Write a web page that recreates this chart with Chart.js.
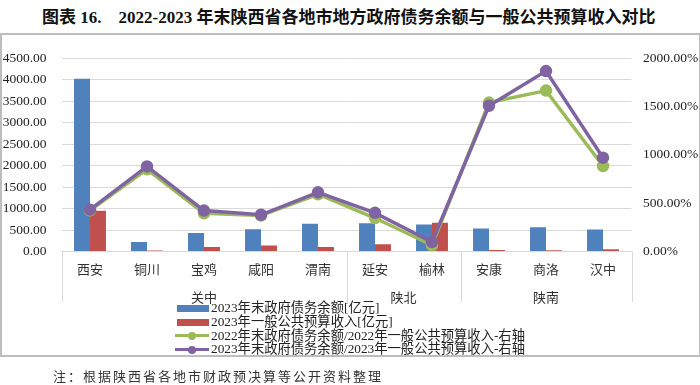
<!DOCTYPE html>
<html lang="zh">

<head>
    <meta charset="UTF-8">
    <title>陕西省各地市地方政府债务余额与一般公共预算收入对比</title>
    <script src="https://cdn.jsdelivr.net/npm/chart.js"></script>
    <style>
        body {
            margin: 0;
            width: 700px;
            height: 385px;
            background: #fff;
            position: relative;
            overflow: hidden;
            font-family: "Liberation Serif", "Noto Sans CJK SC", serif;
            color: #222;
        }

        .title {
            position: absolute;
            left: 42px;
            top: 3px;
            font-size: 17px;
            font-weight: bold;
            white-space: pre;
            color: #111;
        }

        .frame {
            position: absolute;
            left: 0px;
            top: 33px;
            width: 697px;
            height: 320px;
            border: 2px solid #bdbdbd;
        }

        .chartBox {
            position: absolute;
            left: 0;
            top: 35px;
        }

        .legend {
            position: absolute;
            left: 175px;
            top: 301px;
            font-size: 13.3px;
            line-height: 13.8px;
            color: #222;
        }

        .legend div {
            display: flex;
            align-items: center;
            white-space: nowrap;
            height: 13.8px;
        }

        .mk {
            position: relative;
            display: inline-block;
            width: 34px;
            height: 10px;
            margin-right: 2px;
        }

        .mk .box {
            position: absolute;
            left: 2px;
            right: 0;
            top: 2px;
            height: 7px;
        }

        .mk .ln {
            position: absolute;
            left: 0;
            right: 0;
            top: 4px;
            height: 3px;
        }

        .mk .dot {
            position: absolute;
            left: 13px;
            top: 1.5px;
            width: 8px;
            height: 8px;
            border-radius: 50%;
        }

        .note {
            position: absolute;
            left: 53px;
            top: 366px;
            font-size: 13px;
            letter-spacing: 2px;
            color: #333;
        }
    </style>
</head>

<body>
    <div class="title">图表 16.    2022-2023 年末陕西省各地市地方政府债务余额与一般公共预算收入对比</div>
    <div class="frame"></div>
    <div class="chartBox">
        <canvas id="debtChart" width="700" height="270"></canvas>
    </div>
    <div class="legend" id="legend"></div>
    <div class="note">注：根据陕西省各地市财政预决算等公开资料整理</div>
</body>
<script>
    // 数据
    const cities = ['西安', '铜川', '宝鸡', '咸阳', '渭南', '延安', '榆林', '安康', '商洛', '汉中'];
    const groupNames = ['关中', '陕北', '陕南'];
    const groupSizes = [5, 2, 3];

    const debt2023 = [4020, 219, 430, 519, 645, 660, 630, 533, 564, 511];
    const revenue2023 = [951, 25, 102, 138, 105, 168, 667, 35, 30, 53];
    const ratio2022 = [425, 850, 396, 372, 592, 346, 65, 1540, 1664, 884];
    const ratio2023 = [433, 880, 423, 380, 612, 400, 98, 1507, 1866, 970];

    const leftTicks = { min: 0, max: 4500, step: 500 };
    const rightTicks = { min: 0, max: 2000, step: 500 };

    const names = ['2023年末政府债务余额[亿元]', '2023年一般公共预算收入[亿元]',
        '2022年末政府债务余额/2022年一般公共预算收入-右轴', '2023年末政府债务余额/2023年一般公共预算收入-右轴'];
    const colors = ['#4F81BD', '#C0504D', '#9BBB59', '#8064A2'];

    const gridColor = '#d9d9d9';
    const cjk = '"Liberation Serif", "Noto Sans CJK SC", serif';

    // 分组标签和分隔线
    const groupAxis = {
        id: 'groupAxis',
        afterDraw(chart) {
            const ctx = chart.ctx;
            const area = chart.chartArea;
            const step = (area.right - area.left) / cities.length;
            ctx.save();
            ctx.strokeStyle = gridColor;
            ctx.lineWidth = 1;
            let start = 0;
            const edges = [0];
            groupSizes.forEach(n => { start += n; edges.push(start); });
            edges.forEach(e => {
                const px = Math.round(area.left + e * step) + 0.5;
                ctx.beginPath();
                ctx.moveTo(px, area.bottom);
                ctx.lineTo(px, chart.height - 3);
                ctx.stroke();
            });
            ctx.fillStyle = '#333';
            ctx.font = '13px ' + cjk;
            ctx.textAlign = 'center';
            ctx.textBaseline = 'middle';
            for (let g = 0; g < groupNames.length; g++) {
                const cx = area.left + (edges[g] + edges[g + 1]) / 2 * step;
                ctx.fillText(groupNames[g], cx, area.bottom + 47);
            }
            ctx.restore();
        }
    };

    const ctx = document.getElementById('debtChart').getContext('2d');
    const debtChart = new Chart(ctx, {
        data: {
            labels: cities,
            datasets: [{
                type: 'bar',
                label: names[0],
                data: debt2023,
                backgroundColor: colors[0],
                yAxisID: 'y',
                order: 2
            }, {
                type: 'bar',
                label: names[1],
                data: revenue2023,
                backgroundColor: colors[1],
                yAxisID: 'y',
                order: 3
            }, {
                type: 'line',
                label: names[2],
                data: ratio2022,
                borderColor: colors[2],
                backgroundColor: colors[2],
                pointBackgroundColor: colors[2],
                pointBorderColor: colors[2],
                borderWidth: 3.5,
                pointRadius: 4.5,
                yAxisID: 'y1',
                order: 1
            }, {
                type: 'line',
                label: names[3],
                data: ratio2023,
                borderColor: colors[3],
                backgroundColor: colors[3],
                pointBackgroundColor: colors[3],
                pointBorderColor: colors[3],
                borderWidth: 3.5,
                pointRadius: 4.5,
                yAxisID: 'y1',
                order: 0
            }]
        },
        options: {
            responsive: false,
            animation: false,
            layout: { padding: { top: 15.5, left: 0, right: 0, bottom: 0 } },
            datasets: {
                bar: { categoryPercentage: 0.56, barPercentage: 1.0 }
            },
            plugins: {
                legend: { display: false },
                tooltip: { enabled: false }
            },
            scales: {
                x: {
                    grid: { display: false, drawTicks: false },
                    border: { display: true, color: gridColor, width: 1 },
                    ticks: {
                        color: '#333',
                        font: { family: cjk, size: 13 },
                        padding: 11,
                        maxRotation: 0,
                        autoSkip: false
                    },
                    afterFit(scale) { scale.height = 53.5; }
                },
                y: {
                    position: 'left',
                    min: leftTicks.min,
                    max: leftTicks.max,
                    grid: { color: gridColor, drawTicks: false },
                    border: { display: false },
                    ticks: {
                        stepSize: leftTicks.step,
                        color: '#222',
                        font: { family: cjk, size: 13.5 },
                        padding: 15,
                        callback: v => v.toFixed(2)
                    },
                    afterFit(scale) { scale.width = 61.5; }
                },
                y1: {
                    position: 'right',
                    min: rightTicks.min,
                    max: rightTicks.max,
                    grid: { display: false, drawTicks: false },
                    border: { display: false },
                    ticks: {
                        stepSize: rightTicks.step,
                        color: '#222',
                        font: { family: cjk, size: 13.5 },
                        padding: 11.5,
                        callback: v => v.toFixed(2) + '%'
                    },
                    afterFit(scale) { scale.width = 68.5; }
                }
            }
        },
        plugins: [groupAxis]
    });

    // 图例
    let legendBox = document.getElementById('legend');
    legendBox.innerHTML = names.map((n, i) => {
        let mark = i < 2
            ? `<span class="box" style="background:${colors[i]}"></span>`
            : `<span class="ln" style="background:${colors[i]}"></span><span class="dot" style="background:${colors[i]}"></span>`;
        return `<div><span class="mk">${mark}</span>${n}</div>`;
    }).join('');
</script>

</html>
